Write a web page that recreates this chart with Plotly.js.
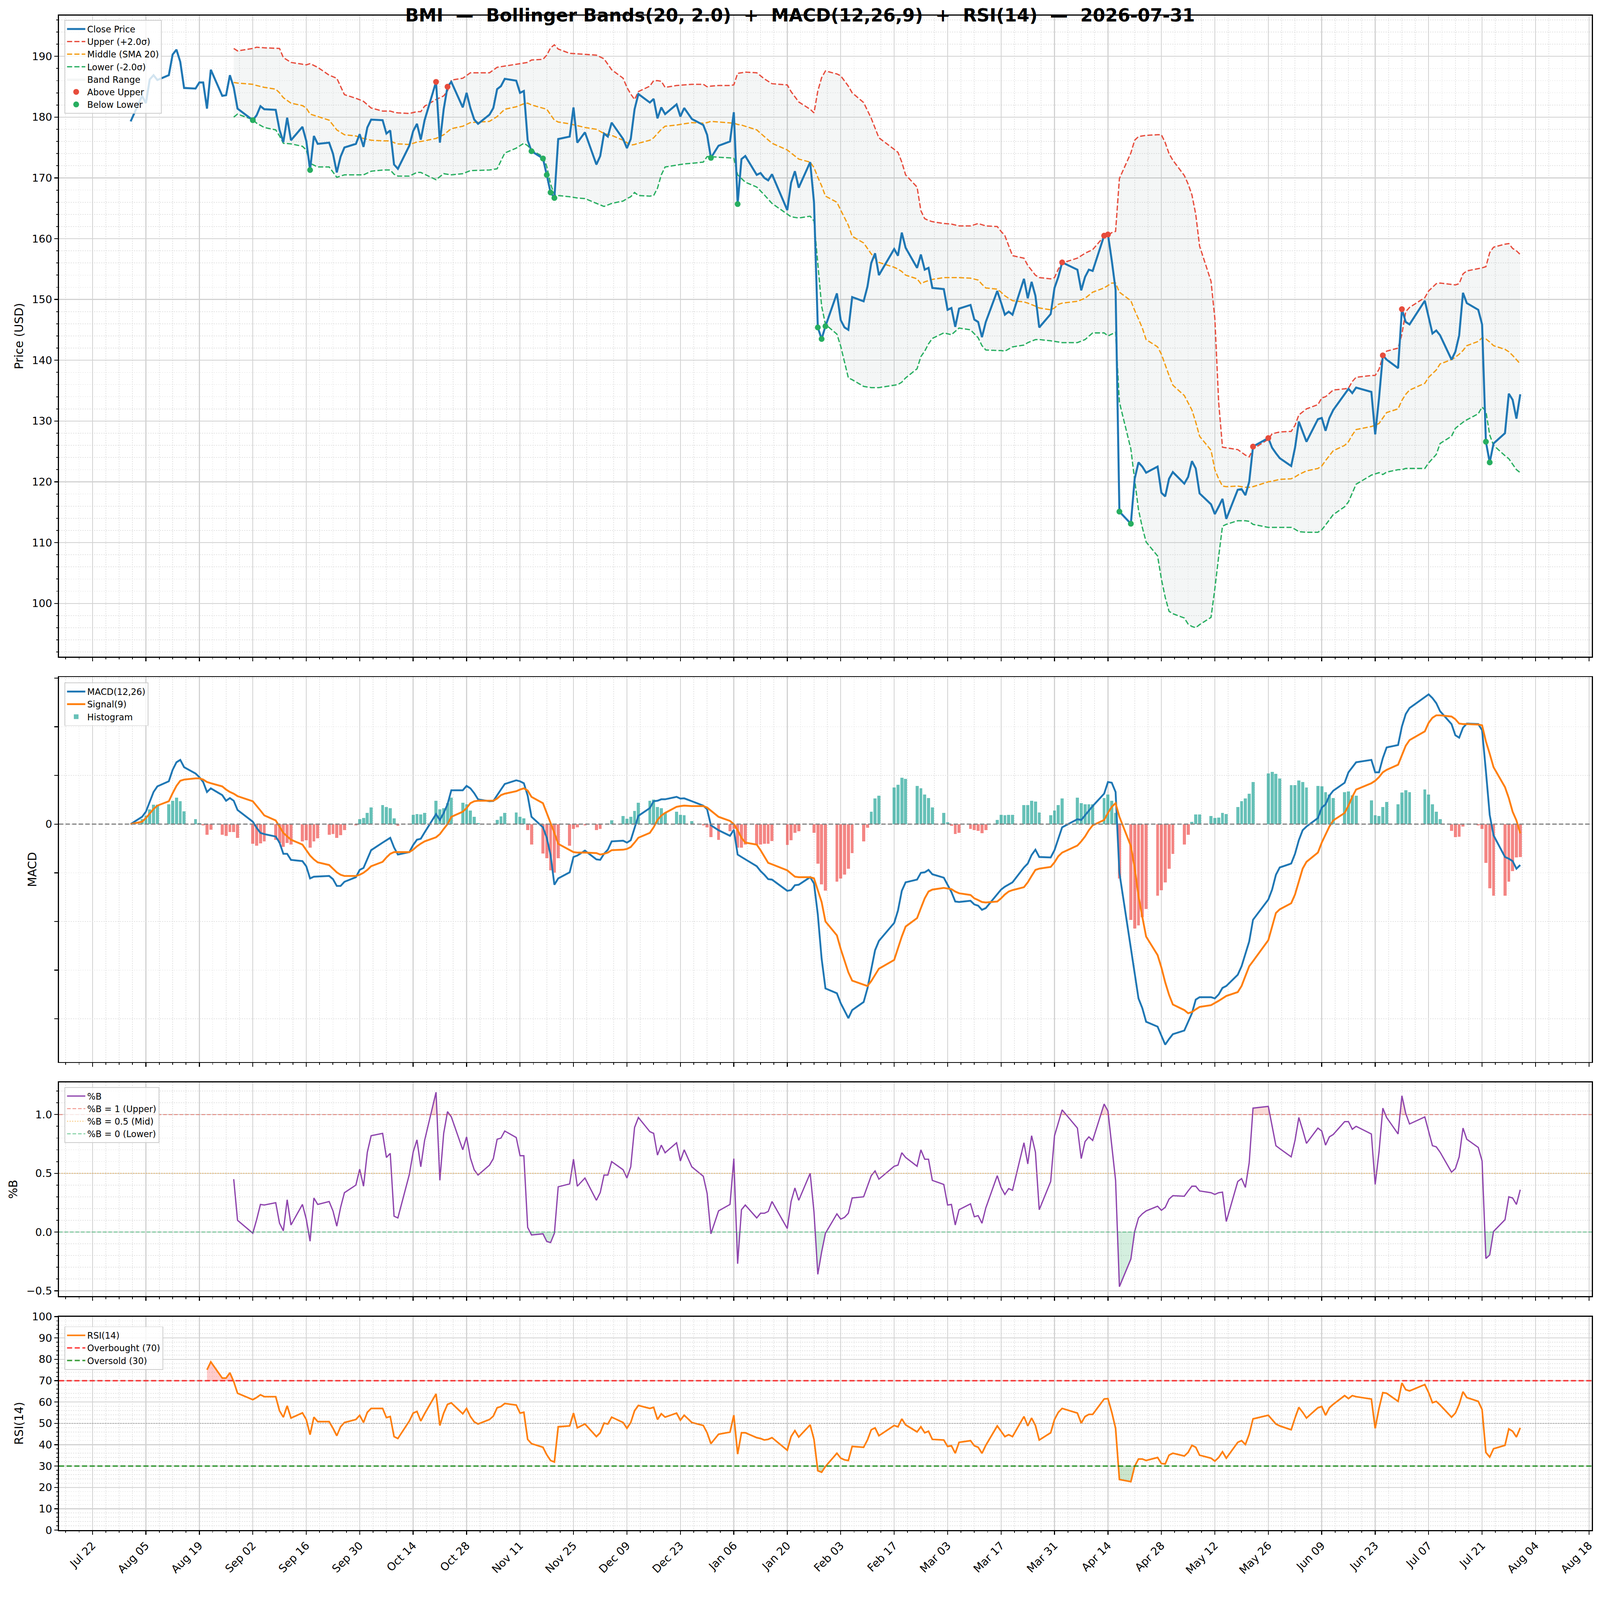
<!DOCTYPE html>
<html>
<head>
<meta charset="utf-8">
<title>BMI Bollinger / MACD / RSI</title>
<script src="https://cdn.plot.ly/plotly-3.0.1.min.js"></script>
<style>
  html, body { margin: 0; padding: 0; background: #fff; overflow: hidden; }
</style>
</head>
<body>
<div id="chart"></div>
<script>
// ---- trading calendar -------------------------------------------------
const firstDay = "2025-08-01";
const lastDay = "2026-07-31";
const marketHolidays = [
    "2025-09-01", "2025-11-27", "2025-12-25", "2026-01-01", "2026-01-19",
    "2026-02-16", "2026-04-03", "2026-05-25", "2026-06-19", "2026-07-03",
];

// ---- close price, one row per trading week ----------------------------
const closePrice = [
    179.3,                               // Aug 1
    183.5, 182.3, 186.2, 186.9, 186.1,   // Aug 4-8
    186.9, 190.3, 191.1, 189.1, 184.8,   // Aug 11-15
    184.7, 185.7, 185.7, 181.4, 187.8,   // Aug 18-22
    183.5, 183.6, 186.9, 184.9, 181.4,   // Aug 25-29
    179.5, 180.3, 181.8, 181.3,          // Sep 2-5
    181.2, 177.9, 175.9, 179.9, 176.2,   // Sep 8-12
    178.4, 176.1, 171.3, 176.9, 175.6,   // Sep 15-19
    175.8, 174.0, 170.9, 173.5, 175.0,   // Sep 22-26
    175.6, 177.2, 175.1, 178.3, 179.6,   // Sep 29-Oct 3
    179.5, 177.3, 177.8, 172.2, 171.5,   // Oct 6-10
    175.3, 177.7, 178.9, 176.3, 179.5,   // Oct 13-17
    185.8, 175.8, 181.3, 185.0, 185.8,   // Oct 20-24
    181.6, 184.0, 181.5, 179.6, 178.9,   // Oct 27-31
    180.4, 181.5, 184.6, 185.1, 186.3,   // Nov 3-7
    186.0, 184.0, 184.3, 176.2, 174.4,   // Nov 10-14
    173.2, 170.5, 167.6, 166.7, 176.4,   // Nov 17-21
    176.8, 181.6, 175.8, 177.5,          // Nov 24-28
    172.2, 173.6, 177.3, 176.8, 179.1,   // Dec 1-5
    176.4, 174.9, 176.4, 181.3, 183.8,   // Dec 8-12
    182.4, 183.0, 179.8, 181.6, 180.5,   // Dec 15-19
    182.1, 180.1, 181.5, 179.7,          // Dec 22-26
    178.7, 177.1, 173.3, 175.3,          // Dec 29-Jan 2
    176.0, 180.8, 165.7, 173.1, 173.6,   // Jan 5-9
    170.5, 170.8, 170.0, 169.6, 170.6,   // Jan 12-16
    164.7, 169.2, 171.1, 168.4,          // Jan 20-23
    172.6, 166.0, 145.4, 143.5, 145.6,   // Jan 26-30
    151.0, 146.6, 145.4, 145.0, 150.4,   // Feb 2-6
    149.7, 152.1, 156.0, 157.6, 154.0,   // Feb 9-13
    158.3, 157.2, 161.0, 158.5,          // Feb 17-20
    155.2, 157.4, 154.9, 155.2, 151.9,   // Feb 23-27
    151.7, 148.3, 148.6, 145.5, 148.5,   // Mar 2-6
    149.1, 146.7, 146.3, 143.8, 146.3,   // Mar 9-13
    151.4, 149.5, 147.5, 148.0, 147.5,   // Mar 16-20
    153.4, 150.2, 152.9, 150.6, 145.4,   // Mar 23-27
    147.6, 151.9, 153.7, 156.1,          // Mar 30-Apr 2
    154.9, 151.5, 153.7, 154.9, 154.7,   // Apr 6-10
    160.5, 160.7, 156.4, 151.6, 115.1,   // Apr 13-17
    113.1, 120.5, 123.2, 122.5, 121.5,   // Apr 20-24
    122.5, 118.2, 117.6, 120.5, 121.6,   // Apr 27-May 1
    119.7, 120.8, 123.4, 122.2, 118.1,   // May 4-8
    116.3, 114.7, 115.9, 117.2, 113.9,   // May 11-15
    118.7, 118.8, 117.8, 120.0, 125.8,   // May 18-22
    127.2, 125.6, 124.7, 123.9,          // May 26-29
    122.6, 125.6, 129.9, 128.2, 126.6,   // Jun 1-5
    130.3, 130.5, 128.4, 130.5, 131.8,   // Jun 8-12
    134.4, 135.3, 134.6, 135.5,          // Jun 15-18
    134.8, 127.8, 133.7, 140.8, 140.1,   // Jun 22-26
    138.7, 148.4, 146.3, 145.9,          // Jun 29-Jul 2
    149.8, 147.1, 144.4, 144.9, 144.1,   // Jul 6-10
    140.1, 141.4, 144.1, 151.1, 149.4,   // Jul 13-17
    148.3, 145.9, 126.6, 123.2, 126.3,   // Jul 20-24
    128.0, 134.5, 133.5, 130.4, 134.4,   // Jul 27-31
];

// ---- Bollinger bands, sampled dates --------------------------------------
const bandDates = [
    "2025-08-28", "2025-08-29",
    "2025-09-02", "2025-09-03", "2025-09-05", "2025-09-08", "2025-09-09", "2025-09-10", "2025-09-12", "2025-09-15",
    "2025-09-16", "2025-09-17", "2025-09-19", "2025-09-22", "2025-09-24", "2025-09-26", "2025-09-29",
    "2025-10-01", "2025-10-03", "2025-10-06", "2025-10-08", "2025-10-09", "2025-10-10", "2025-10-13", "2025-10-15",
    "2025-10-16", "2025-10-17", "2025-10-20", "2025-10-22", "2025-10-23", "2025-10-24", "2025-10-27", "2025-10-29",
    "2025-11-03", "2025-11-05", "2025-11-07", "2025-11-10", "2025-11-12", "2025-11-13", "2025-11-14", "2025-11-17",
    "2025-11-18", "2025-11-19", "2025-11-20", "2025-11-21", "2025-11-24", "2025-11-26", "2025-11-28",
    "2025-12-01", "2025-12-03", "2025-12-05", "2025-12-08", "2025-12-09", "2025-12-10", "2025-12-11", "2025-12-12",
    "2025-12-15", "2025-12-16", "2025-12-17", "2025-12-18", "2025-12-19", "2025-12-22", "2025-12-24", "2025-12-26",
    "2025-12-29", "2025-12-30", "2025-12-31",
    "2026-01-02", "2026-01-05", "2026-01-06", "2026-01-07", "2026-01-08", "2026-01-09", "2026-01-12", "2026-01-14",
    "2026-01-16", "2026-01-20", "2026-01-21", "2026-01-23", "2026-01-26", "2026-01-27", "2026-01-28", "2026-01-29",
    "2026-01-30",
    "2026-02-02", "2026-02-03", "2026-02-05", "2026-02-06", "2026-02-09", "2026-02-11", "2026-02-13", "2026-02-17",
    "2026-02-18", "2026-02-19", "2026-02-20", "2026-02-23", "2026-02-24", "2026-02-25", "2026-02-26", "2026-02-27",
    "2026-03-02", "2026-03-04", "2026-03-06", "2026-03-09", "2026-03-11", "2026-03-12", "2026-03-13", "2026-03-16",
    "2026-03-17", "2026-03-18", "2026-03-20", "2026-03-23", "2026-03-24", "2026-03-26", "2026-03-27", "2026-03-30",
    "2026-03-31",
    "2026-04-01", "2026-04-02", "2026-04-06", "2026-04-08", "2026-04-10", "2026-04-13", "2026-04-14", "2026-04-15",
    "2026-04-16", "2026-04-17", "2026-04-20", "2026-04-21", "2026-04-22", "2026-04-23", "2026-04-24", "2026-04-27",
    "2026-04-28", "2026-04-29", "2026-04-30",
    "2026-05-01", "2026-05-04", "2026-05-05", "2026-05-06", "2026-05-07", "2026-05-08", "2026-05-11", "2026-05-12",
    "2026-05-13", "2026-05-14", "2026-05-15", "2026-05-18", "2026-05-20", "2026-05-21", "2026-05-22", "2026-05-26",
    "2026-05-27", "2026-05-29",
    "2026-06-01", "2026-06-02", "2026-06-03", "2026-06-05", "2026-06-08", "2026-06-09", "2026-06-10", "2026-06-12",
    "2026-06-15", "2026-06-16", "2026-06-17", "2026-06-18", "2026-06-22", "2026-06-23", "2026-06-24", "2026-06-25",
    "2026-06-26", "2026-06-29", "2026-06-30",
    "2026-07-01", "2026-07-02", "2026-07-06", "2026-07-07", "2026-07-09", "2026-07-10", "2026-07-13", "2026-07-14",
    "2026-07-15", "2026-07-16", "2026-07-17", "2026-07-20", "2026-07-21", "2026-07-22", "2026-07-23", "2026-07-24",
    "2026-07-27", "2026-07-28", "2026-07-29", "2026-07-30", "2026-07-31",
];
const upperBand = [
    191.3, 190.9,
    191.3, 191.5, 191.4, 191.3, 191.3, 189.8, 189.0, 188.7, 188.6, 188.8, 188.2, 186.9, 186.4, 183.7, 183.1,
    182.6, 181.5, 181.0, 181.0, 180.8, 180.7, 180.6, 180.9, 180.9, 181.8, 182.9, 183.5, 184.3, 186.1, 186.4, 187.3,
    187.3, 188.2, 188.4, 188.7, 188.9, 189.0, 189.4, 189.5, 190.2, 191.4, 191.9, 191.2, 190.5, 190.4, 190.3,
    190.2, 189.6, 187.8, 186.4, 184.9, 183.8, 182.9, 184.2, 185.1, 186.0, 186.0, 185.9, 184.9, 185.2, 185.3, 185.4,
    185.4, 185.0, 185.1,
    185.2, 185.2, 185.3, 187.2, 187.3, 187.4, 187.3, 186.3, 185.5, 185.3, 184.2, 182.5, 181.3, 180.7, 184.3, 186.5,
    187.6,
    187.1, 186.8, 185.1, 184.0, 182.4, 179.8, 176.6, 174.7, 174.2, 172.6, 170.5, 168.5, 164.6, 163.3, 163.0, 162.8,
    162.5, 162.4, 162.1, 162.1, 162.5, 162.3, 162.1, 162.0, 161.2, 160.5, 157.2, 156.8, 155.6, 154.0, 153.6, 153.4,
    153.6,
    155.0, 156.0, 156.8, 157.6, 158.2, 160.4, 160.5, 161.0, 161.2, 169.9, 174.1, 176.2, 176.8, 176.9, 177.0, 177.1,
    177.1, 175.8, 174.0,
    172.9, 170.4, 169.0, 167.2, 164.0, 158.8, 153.0, 146.9, 133.1, 125.7, 125.6, 125.3, 124.4, 124.1, 125.4, 127.0,
    127.9, 128.2,
    128.3, 129.3, 131.0, 132.0, 132.7, 133.8, 134.0, 135.1, 135.3, 135.4, 136.5, 137.2, 137.5, 137.5, 138.5, 140.6,
    141.5, 142.0, 144.3,
    148.0, 148.7, 150.3, 151.4, 152.6, 152.7, 152.5, 152.4, 152.6, 154.2, 154.7, 155.1, 155.2, 155.4, 157.7, 158.6,
    159.1, 159.2, 158.4, 158.0, 157.4,
];
const middleBand = [
    185.7, 185.6,
    185.4, 185.2, 184.9, 184.6, 184.0, 183.2, 182.3, 181.9, 181.5, 180.5, 180.1, 179.5, 177.9, 177.1, 176.9,
    176.5, 176.2, 176.1, 176.1, 175.8, 175.6, 175.5, 175.9, 176.0, 176.1, 176.5, 177.1, 177.6, 178.1, 178.5, 179.1,
    179.3, 180.1, 181.3, 181.7, 182.2, 182.3, 182.0, 181.5, 181.3, 180.4, 179.5, 179.2, 178.9, 178.6, 178.3,
    178.0, 177.3, 177.0, 176.2, 175.8, 175.4, 175.5, 175.7, 176.2, 176.6, 177.3, 178.0, 178.5, 178.7, 178.9, 179.1,
    179.0, 179.1, 179.3,
    179.2, 179.1, 179.0, 178.8, 178.7, 178.5, 177.9, 176.8, 175.7, 174.6, 174.1, 173.1, 172.6, 171.7, 170.1, 168.7,
    167.0,
    166.0, 164.7, 162.2, 160.4, 159.3, 157.5, 156.1, 155.3, 155.0, 154.6, 154.0, 153.4, 152.6, 152.9, 153.1, 153.3,
    153.6, 153.6, 153.6, 153.5, 153.2, 152.5, 151.9, 151.7, 151.2, 150.6, 149.8, 149.6, 149.4, 148.9, 148.6, 148.3,
    148.6,
    149.2, 149.4, 149.7, 150.2, 151.2, 151.9, 152.3, 152.7, 152.7, 151.2, 149.8, 148.2, 146.8, 145.3, 143.4, 142.2,
    141.0, 139.2, 137.5,
    135.9, 134.2, 133.0, 131.8, 129.8, 127.5, 125.2, 122.0, 120.5, 119.3, 119.2, 119.3, 119.1, 119.1, 119.2, 120.0,
    120.1, 120.4,
    120.5, 120.8, 121.2, 121.8, 122.2, 122.6, 123.5, 125.1, 126.0, 126.6, 127.7, 128.6, 129.1, 129.3, 129.6, 130.5,
    131.4, 132.0, 133.4,
    134.4, 135.1, 136.2, 137.2, 138.4, 139.4, 140.1, 140.5, 141.0, 141.6, 142.4, 143.1, 143.7, 143.5, 143.0, 142.4,
    141.8, 141.4, 140.8, 140.1, 139.4,
];
const lowerBand = [
    180.0, 180.5,
    179.6, 179.0, 178.3, 177.9, 176.9, 175.7, 175.6, 175.2, 174.6, 172.4, 171.8, 171.8, 170.1, 170.5, 170.5,
    170.5, 171.1, 171.3, 171.3, 170.6, 170.3, 170.3, 170.9, 170.9, 170.6, 169.7, 170.7, 170.6, 170.5, 170.7, 171.2,
    171.3, 171.5, 174.1, 174.9, 175.7, 175.3, 174.6, 173.5, 171.9, 169.0, 167.2, 167.1, 166.9, 166.7, 166.6,
    165.8, 165.3, 165.8, 166.2, 166.6, 166.9, 167.6, 167.1, 167.0, 167.1, 168.3, 170.5, 171.8, 172.1, 172.3, 172.4,
    172.6, 173.5, 173.5,
    173.4, 173.3, 173.2, 170.5, 169.9, 169.3, 168.5, 167.2, 165.8, 164.0, 163.6, 163.4, 163.7, 162.9, 156.0, 148.9,
    145.9,
    144.3, 142.3, 137.1, 136.8, 135.7, 135.5, 135.5, 135.9, 136.0, 136.4, 137.1, 138.6, 140.6, 141.5, 142.7, 143.6,
    144.5, 144.2, 145.3, 145.0, 143.7, 142.4, 141.7, 141.6, 141.6, 141.5, 142.2, 142.5, 142.9, 143.4, 143.4, 143.2,
    143.1,
    143.0, 142.9, 142.9, 143.4, 144.5, 144.5, 144.0, 144.3, 144.6, 133.1, 125.4, 120.3, 115.4, 112.5, 110.1, 107.8,
    104.0, 101.0, 98.7,
    98.3, 97.6, 96.6, 96.2, 96.0, 96.5, 97.7, 102.4, 107.7, 112.7, 113.0, 113.6, 113.6, 113.5, 113.0, 112.5,
    112.5, 112.5,
    112.5, 112.2, 111.8, 111.7, 111.7, 112.1, 112.9, 114.6, 115.9, 116.7, 118.2, 119.6, 121.1, 121.3, 121.5, 121.2,
    121.6, 122.0, 122.0,
    122.2, 122.2, 122.2, 123.1, 124.5, 126.3, 127.5, 128.8, 129.3, 129.8, 130.2, 131.2, 132.3, 131.6, 127.7, 126.0,
    124.3, 123.8, 122.9, 122.0, 121.5,
];

// days where the close broke out of the bands
const aboveUpperDates = [
    "2025-10-20", "2025-10-23", "2026-04-02", "2026-04-13", "2026-04-14",
    "2026-05-22", "2026-05-26", "2026-06-25", "2026-06-30",
];
const belowLowerDates = [
    "2025-09-02", "2025-09-17", "2025-11-14", "2025-11-17", "2025-11-18", "2025-11-19", "2025-11-20",
    "2025-12-31", "2026-01-07", "2026-01-28", "2026-01-29", "2026-01-30", "2026-04-17", "2026-04-20",
    "2026-07-22", "2026-07-23",
];

// ---- MACD(12,26,9) ------------------------------------------------------
const macdLine = [
    0.00,
    0.30, 0.51, 0.90, 1.32, 1.55,
    1.76, 2.23, 2.54, 2.64, 2.34,
    2.08, 1.93, 1.73, 1.32, 1.47,
    1.19, 0.96, 1.07, 0.96, 0.58,
    0.10, -0.15, -0.36, -0.41,
    -0.51, -0.76, -1.22, -1.22, -1.47,
    -1.52, -1.73, -2.23, -2.16, -2.15,
    -2.13, -2.26, -2.54, -2.54, -2.37,
    -2.18, -1.88, -1.80, -1.42, -1.07,
    -0.76, -0.66, -0.56, -0.96, -1.25,
    -1.15, -0.86, -0.64, -0.60, -0.34,
    0.41, 0.17, 0.46, 0.81, 1.39,
    1.39, 1.57, 1.47, 1.27, 1.02,
    0.94, 0.95, 1.17, 1.42, 1.65,
    1.80, 1.76, 1.68, 1.17, 0.30,
    -0.13, -0.56, -1.27, -2.49, -2.23,
    -1.98, -1.35, -1.29, -1.09,
    -1.45, -1.47, -1.22, -1.05, -0.71,
    -0.68, -0.76, -0.66, -0.17, 0.34,
    0.66, 0.94, 0.96, 1.02, 1.02,
    1.12, 1.05, 1.06, 0.94,
    0.76, 0.61, -0.05, -0.25,
    -0.48, -0.23, -1.25, -1.35, -1.45,
    -1.73, -1.93, -2.08, -2.26, -2.28,
    -2.74, -2.71, -2.51, -2.49,
    -2.18, -2.44, -3.71, -5.53, -6.75,
    -6.95, -7.36, -7.66, -7.97, -7.64,
    -7.31, -6.75, -5.99, -5.18, -4.80,
    -4.06, -3.55, -2.74, -2.39,
    -2.28, -2.00, -1.98, -1.88, -2.06,
    -2.20, -2.49, -2.79, -3.18, -3.20,
    -3.15, -3.30, -3.35, -3.52, -3.45,
    -2.89, -2.69, -2.57, -2.49, -2.39,
    -1.78, -1.62, -1.27, -1.05, -1.35,
    -1.37, -1.07, -0.61, -0.13,
    0.20, 0.17, 0.36, 0.56, 0.74,
    1.25, 1.73, 1.70, 1.32, -2.00,
    -5.03, -6.14, -7.16, -7.56, -8.12,
    -8.32, -8.68, -9.06, -8.83, -8.63,
    -8.48, -8.12, -7.77, -7.21, -7.11,
    -7.11, -7.16, -7.00, -6.73, -6.65,
    -6.19, -5.84, -5.33, -4.82, -3.93,
    -3.10, -2.69, -2.08, -1.78,
    -1.62, -1.22, -0.66, -0.25, -0.10,
    0.25, 0.68, 0.81, 1.17, 1.37,
    1.70, 2.13, 2.34, 2.54,
    2.64, 2.13, 2.13, 2.71, 3.15,
    3.25, 4.01, 4.52, 4.77,
    5.23, 5.33, 5.18, 4.97, 4.64,
    4.11, 3.65, 3.55, 3.96, 4.13,
    4.11, 3.86, 2.18, 0.38, -0.46,
    -1.35, -1.42, -1.52, -1.83, -1.68,
];
const signalLine = [
    0.00,
    0.10, 0.25, 0.45, 0.62, 0.76,
    0.94, 1.27, 1.57, 1.78, 1.83,
    1.88, 1.88, 1.83, 1.73, 1.68,
    1.55, 1.42, 1.32, 1.25, 1.15,
    0.94, 0.76, 0.56, 0.36,
    0.15, -0.10, -0.36, -0.50, -0.64,
    -0.84, -1.05, -1.29, -1.45, -1.57,
    -1.68, -1.83, -1.98, -2.08, -2.13,
    -2.13, -2.08, -2.00, -1.88, -1.73,
    -1.55, -1.37, -1.22, -1.15, -1.15,
    -1.15, -1.05, -0.91, -0.80, -0.71,
    -0.54, -0.41, -0.20, 0.00, 0.30,
    0.51, 0.66, 0.86, 0.94, 0.96,
    0.96, 0.96, 1.05, 1.19, 1.25,
    1.35, 1.42, 1.47, 1.38, 1.12,
    0.86, 0.46, 0.05, -0.36, -0.81,
    -1.07, -1.15, -1.17, -1.17,
    -1.19, -1.25, -1.22, -1.17, -1.07,
    -1.05, -1.02, -0.94, -0.76, -0.56,
    -0.36, -0.13, 0.17, 0.35, 0.46,
    0.71, 0.74, 0.76, 0.74,
    0.74, 0.68, 0.56, 0.30,
    0.13, 0.00, -0.25, -0.56, -0.76,
    -0.84, -1.07, -1.32, -1.59, -1.65,
    -1.90, -2.03, -2.16, -2.18,
    -2.18, -2.23, -2.69, -3.20, -4.00,
    -4.57, -5.13, -5.63, -6.09, -6.43,
    -6.60, -6.65, -6.45, -6.19, -5.94,
    -5.58, -5.08, -4.62, -4.21,
    -3.86, -3.45, -3.05, -2.77, -2.69,
    -2.62, -2.64, -2.67, -2.77, -2.84,
    -2.91, -3.05, -3.12, -3.20, -3.22,
    -3.18, -3.05, -2.89, -2.77, -2.71,
    -2.59, -2.39, -2.13, -1.88, -1.83,
    -1.76, -1.57, -1.32, -1.17,
    -0.88, -0.71, -0.51, -0.25, -0.05,
    0.17, 0.46, 0.71, 0.86, 0.30,
    -0.90, -1.80, -2.95, -3.81, -4.62,
    -5.38, -5.89, -6.50, -7.01, -7.41,
    -7.64, -7.77, -7.72, -7.61, -7.51,
    -7.44, -7.36, -7.26, -7.16, -7.06,
    -6.90, -6.65, -6.24, -5.84, -5.63,
    -4.77, -4.21, -3.65, -3.50,
    -3.25, -2.89, -2.34, -1.83, -1.55,
    -1.17, -0.76, -0.41, -0.10, 0.15,
    0.46, 0.76, 1.12, 1.42,
    1.68, 1.78, 1.93, 2.13, 2.23,
    2.44, 2.84, 3.22, 3.45,
    3.81, 4.16, 4.37, 4.47, 4.47,
    4.42, 4.31, 4.13, 4.11, 4.11,
    4.09, 4.06, 3.40, 2.89, 2.34,
    1.52, 1.07, 0.51, 0.15, -0.38,
];
const macdHist = [
    0.00,
    0.20, 0.35, 0.60, 0.80, 0.80,
    0.81, 0.96, 1.09, 0.94, 0.53,
    0.20, 0.05, -0.05, -0.43, -0.23,
    -0.43, -0.48, -0.32, -0.32, -0.56,
    -0.81, -0.88, -0.79, -0.71,
    -0.64, -0.78, -0.94, -0.78, -0.84,
    -0.71, -0.66, -0.96, -0.71, -0.58,
    -0.44, -0.41, -0.56, -0.46, -0.25,
    -0.05, 0.20, 0.25, 0.46, 0.68,
    0.78, 0.71, 0.66, 0.23, -0.07,
    0.00, 0.38, 0.41, 0.40, 0.46,
    0.96, 0.61, 0.66, 0.86, 1.09,
    0.88, 0.81, 0.56, 0.30, 0.05,
    0.00, 0.00, 0.17, 0.32, 0.46,
    0.48, 0.30, 0.23, -0.25, -0.84,
    -1.20, -1.40, -1.90, -2.00, -1.40,
    -0.88, -0.20, -0.13, -0.05,
    -0.25, -0.20, 0.00, 0.03, 0.15,
    0.34, 0.22, 0.30, 0.54, 0.88,
    0.96, 1.00, 0.71, 0.66, 0.44,
    0.51, 0.38, 0.36, 0.13,
    -0.05, -0.13, -0.54, -0.64,
    -0.30, -0.20, -0.96, -0.96, -0.84,
    -0.84, -0.84, -0.81, -0.81, -0.70,
    -0.86, -0.66, -0.36, -0.30,
    0.00, -0.36, -1.62, -2.47, -2.74,
    -2.37, -2.23, -2.08, -1.83, -1.19,
    -0.71, -0.15, 0.51, 1.05, 1.17,
    1.50, 1.62, 1.90, 1.86,
    1.57, 1.47, 1.22, 1.07, 0.68,
    0.46, 0.07, -0.07, -0.41, -0.36,
    -0.20, -0.25, -0.27, -0.38, -0.25,
    0.17, 0.38, 0.36, 0.38, 0.38,
    0.78, 0.78, 0.96, 0.93, 0.48,
    0.36, 0.56, 0.78, 1.05,
    1.09, 0.86, 0.81, 0.81, 0.81,
    1.07, 1.22, 0.96, 0.46, -2.23,
    -3.93, -4.29, -4.16, -3.83, -3.48,
    -2.94, -2.71, -2.39, -1.83, -1.22,
    -0.84, -0.44, 0.10, 0.40, 0.40,
    0.34, 0.25, 0.27, 0.46, 0.41,
    0.71, 0.94, 1.05, 1.25, 1.73,
    2.08, 2.15, 2.06, 1.88,
    1.60, 1.60, 1.80, 1.73, 1.50,
    1.57, 1.55, 1.32, 1.22, 1.07,
    1.32, 1.35, 1.19, 1.17,
    0.98, 0.36, 0.34, 0.71, 0.91,
    0.81, 1.30, 1.40, 1.32,
    1.42, 1.22, 0.81, 0.51, 0.20,
    -0.27, -0.54, -0.51, -0.10, 0.02,
    -0.05, -0.20, -1.59, -2.64, -2.94,
    -2.94, -2.37, -1.93, -1.37, -1.35,
];

// ---- %B, starts Aug 28 ----------------------------------------------------
const percentB = [
    0.45, 0.10,
    -0.01, 0.105, 0.235, 0.23,
    0.25, 0.075, 0.01, 0.275, 0.06,
    0.235, 0.11, -0.078, 0.29, 0.235,
    0.26, 0.18, 0.05, 0.21, 0.335,
    0.40, 0.535, 0.39, 0.68, 0.82,
    0.84, 0.635, 0.67, 0.135, 0.12,
    0.49, 0.68, 0.785, 0.555, 0.78,
    1.19, 0.44, 0.84, 1.025, 0.98,
    0.70, 0.81, 0.63, 0.53, 0.485,
    0.57, 0.625, 0.79, 0.80, 0.86,
    0.805, 0.65, 0.65, 0.04, -0.025,
    -0.015, -0.08, -0.09, -0.01, 0.385,
    0.41, 0.62, 0.39, 0.46,
    0.27, 0.335, 0.485, 0.485, 0.60,
    0.53, 0.46, 0.555, 0.89, 0.975,
    0.855, 0.84, 0.655, 0.74, 0.675,
    0.76, 0.605, 0.70, 0.555,
    0.475, 0.33, -0.015, 0.18,
    0.235, 0.625, -0.27, 0.19, 0.23,
    0.12, 0.16, 0.16, 0.175, 0.26,
    0.03, 0.26, 0.375, 0.27,
    0.50, 0.17, -0.36, -0.17, -0.01,
    0.155, 0.11, 0.125, 0.16, 0.29,
    0.30, 0.39, 0.48, 0.52, 0.45,
    0.56, 0.57, 0.675, 0.635,
    0.56, 0.70, 0.62, 0.62, 0.44,
    0.405, 0.23, 0.235, 0.06, 0.19,
    0.24, 0.13, 0.14, 0.075, 0.205,
    0.48, 0.38, 0.32, 0.37, 0.355,
    0.76, 0.58, 0.82, 0.68, 0.19,
    0.43, 0.82, 0.93, 1.04,
    0.885, 0.625, 0.77, 0.81, 0.78,
    1.09, 1.03, 0.73, 0.44, -0.465,
    -0.23, 0.005, 0.12, 0.155, 0.18,
    0.22, 0.185, 0.21, 0.28, 0.31,
    0.305, 0.35, 0.39, 0.39, 0.35,
    0.335, 0.32, 0.335, 0.34, 0.09,
    0.43, 0.455, 0.38, 0.59, 1.055,
    1.07, 0.90, 0.735, 0.71,
    0.64, 0.78, 0.975, 0.87, 0.755,
    0.885, 0.86, 0.74, 0.81, 0.83,
    0.94, 0.94, 0.875, 0.90,
    0.835, 0.405, 0.68, 1.055, 0.975,
    0.835, 1.16, 1.01, 0.92,
    0.98, 0.86, 0.735, 0.725, 0.68,
    0.51, 0.54, 0.64, 0.885, 0.79,
    0.72, 0.605, -0.225, -0.195, 0.005,
    0.105, 0.30, 0.29, 0.235, 0.36,
];

// ---- RSI(14), starts Aug 21 ----------------------------------------------
const rsi14 = [
    75.1, 78.8,
    71.2, 71.2, 73.7, 69.6, 64.1,
    61.1, 62.1, 63.4, 62.5,
    62.5, 55.9, 52.9, 58.2, 52.5,
    54.9, 51.8, 44.7, 52.9, 50.8,
    50.8, 47.7, 44.2, 48.4, 50.4,
    51.8, 53.8, 50.4, 55.2, 57.0,
    57.0, 52.7, 53.2, 43.8, 42.9,
    51.1, 54.8, 55.6, 51.1, 54.5,
    63.8, 49.0, 54.8, 58.9, 59.6,
    54.5, 57.0, 53.2, 50.7, 49.7,
    51.8, 53.4, 57.3, 57.9, 59.3,
    58.6, 54.8, 55.2, 42.5, 40.5,
    38.8, 35.3, 32.6, 31.9, 48.4,
    48.8, 54.8, 47.9, 49.7,
    43.8, 45.6, 50.1, 49.7, 52.9,
    50.4, 47.7, 50.4, 55.9, 58.4,
    57.0, 57.5, 51.8, 54.5, 52.9,
    54.8, 51.5, 53.8, 50.4,
    49.0, 45.6, 40.5, 44.9,
    45.9, 53.8, 35.6, 45.6, 45.6,
    43.3, 42.9, 42.2, 42.5, 43.3,
    37.4, 43.8, 46.6, 43.6,
    49.3, 42.5, 27.8, 27.1, 29.8,
    36.0, 33.7, 32.9, 32.6, 39.2,
    38.8, 42.2, 47.0, 47.9, 44.2,
    49.0, 48.4, 52.1, 49.3,
    46.0, 48.4, 45.6, 46.3, 42.5,
    42.2, 39.2, 39.5, 36.0, 41.1,
    41.9, 39.5, 38.8, 36.0, 39.7,
    48.8, 46.3, 43.8, 44.7, 43.8,
    53.2, 48.8, 52.5, 49.0, 42.2,
    45.6, 51.8, 55.2, 57.0,
    54.8, 50.1, 53.2, 54.2, 54.2,
    61.4, 61.6, 55.2, 47.7, 23.7,
    22.7, 29.9, 33.3, 33.3, 32.6,
    34.0, 31.2, 31.0, 35.1, 36.0,
    34.7, 36.4, 39.7, 38.8, 35.1,
    33.7, 32.3, 34.0, 36.7, 33.7,
    41.1, 41.9, 40.1, 44.9, 52.1,
    53.8, 51.8, 49.7, 48.8,
    47.0, 52.5, 57.5, 55.2, 52.5,
    57.3, 57.9, 53.8, 57.3, 58.9,
    63.0, 61.6, 63.0, 62.5,
    61.4, 47.7, 57.0, 64.4, 64.1,
    60.3, 68.9, 65.8, 65.2,
    68.2, 64.4, 59.7, 60.3, 58.6,
    52.9, 54.8, 58.9, 64.8, 62.1,
    60.3, 56.5, 36.4, 34.2, 38.1,
    39.7, 47.4, 46.3, 43.6, 47.9,
];

// ---- helpers ------------------------------------------------------------
function tradingDays(start, end, skip) {
    const out = [];
    const d = new Date(start + "T00:00:00Z");
    const stop = new Date(end + "T00:00:00Z");
    while (d <= stop) {
        const iso = d.toISOString().slice(0, 10);
        const wd = d.getUTCDay();
        if (wd !== 0 && wd !== 6 && !skip.includes(iso)) out.push(iso);
        d.setUTCDate(d.getUTCDate() + 1);
    }
    return out;
}

const days = tradingDays(firstDay, lastDay, marketHolidays);
// series that start later line up with the last dates
const datesFor = (arr) => days.slice(days.length - arr.length);
const closeDates = datesFor(closePrice);
const macdDates = datesFor(macdLine);
const pctbDates = datesFor(percentB);
const rsiDates = datesFor(rsi14);
const closeOn = (d) => closePrice[closeDates.indexOf(d)];

// shaded area between a line and a level, closed where the line crosses it
function beyondLevel(dates, values, level, above) {
    const t = dates.map((d) => Date.parse(d + "T00:00:00Z"));
    const isOut = (v) => (above ? v > level : v < level);
    const cross = (i) => t[i - 1] + (t[i] - t[i - 1]) * (level - values[i - 1]) / (values[i] - values[i - 1]);
    const xs = [], ys = [];
    let open = false;
    values.forEach((v, i) => {
        if (isOut(v)) {
            if (!open) {
                xs.push(i > 0 ? cross(i) : t[i]);
                ys.push(level);
                open = true;
            }
            xs.push(t[i]);
            ys.push(v);
        } else if (open) {
            xs.push(cross(i), null);
            ys.push(level, null);
            open = false;
        }
    });
    if (open) {
        xs.push(t[t.length - 1]);
        ys.push(level);
    }
    return { x: xs, y: ys };
}

// the page is laid out for a 4378 x 4322 canvas; scale to the real viewport
const BASE_W = 4378, BASE_H = 4322;
let S = Math.min(window.innerWidth / BASE_W, window.innerHeight / BASE_H);
if (!isFinite(S) || S <= 0) S = 1;
const px = (v) => v * S;
const dash = (a, b) => px(a) + "px," + px(b) + "px";

const DAY = 86400000;
const FONT = "DejaVu Sans";
const xRange = ["2025-07-13 05:31", "2026-08-18 17:46"];

function dateAxis(anchor, showLabels) {
    return {
        type: "date",
        range: xRange,
        anchor: anchor,
        tick0: "2025-07-22",
        dtick: 14 * DAY,
        tickformat: "%b %d",
        showticklabels: showLabels,
        tickangle: -45,
        tickfont: { family: FONT, size: px(30), color: "#000" },
        ticks: "outside",
        ticklen: px(10),
        tickwidth: px(2.5),
        tickcolor: "#000",
        showgrid: true,
        gridcolor: "#d2d2d2",
        gridwidth: px(2.5),
        minor: {
            tick0: "2025-07-22",
            dtick: 3.5 * DAY,
            ticks: "outside",
            ticklen: px(5),
            tickwidth: px(2),
            tickcolor: "#000",
            showgrid: true,
            gridcolor: "#e3e3e3",
            gridwidth: px(1.8),
            griddash: "dot",
        },
        showline: true,
        linecolor: "#000",
        linewidth: px(3),
        mirror: true,
        zeroline: false,
        domain: [0, 1],
    };
}

function valueAxis(anchor, domain, title, extra) {
    return Object.assign({
        anchor: anchor,
        domain: domain,
        title: { text: title, font: { family: FONT, size: px(32), color: "#000" }, standoff: px(15) },
        tickfont: { family: FONT, size: px(29), color: "#000" },
        ticks: "outside",
        ticklen: px(10),
        tickwidth: px(2.5),
        tickcolor: "#000",
        ticklabelstandoff: px(6),
        showgrid: true,
        gridcolor: "#d2d2d2",
        gridwidth: px(2.5),
        showline: true,
        linecolor: "#000",
        linewidth: px(3),
        mirror: true,
        zeroline: false,
    }, extra);
}

function minorGrid(step) {
    return {
        dtick: step,
        ticks: "outside",
        ticklen: px(5),
        tickwidth: px(2),
        tickcolor: "#000",
        showgrid: true,
        gridcolor: "#e3e3e3",
        gridwidth: px(1.8),
        griddash: "dot",
    };
}

function legendBox(top) {
    return {
        x: 0.0035,
        y: top,
        xanchor: "left",
        yanchor: "top",
        bgcolor: "rgba(255,255,255,0.8)",
        bordercolor: "#cccccc",
        borderwidth: px(2),
        font: { family: FONT, size: px(24), color: "#000" },
        itemwidth: Math.max(30, px(50)),
        traceorder: "normal",
    };
}

function hline(axisNum, y, color, width, dashStyle) {
    return {
        type: "line",
        xref: "x" + axisNum + " domain",
        x0: 0,
        x1: 1,
        yref: "y" + axisNum,
        y0: y,
        y1: y,
        layer: "above",
        line: { color: color, width: px(width), dash: dashStyle },
    };
}

// legend-only entry for a reference line drawn as a shape
function legendLine(name, axisNum, legend, color, width, dashStyle, rank) {
    return {
        x: [null], y: [null], type: "scatter", mode: "lines",
        name: name, legend: legend, legendrank: rank,
        xaxis: "x" + axisNum, yaxis: "y" + axisNum,
        line: { color: color, width: px(width), dash: dashStyle },
    };
}

const BAND_DASH = dash(14, 6);
const LEVEL_DASH = dash(10, 5);
const DOTTED = dash(3, 4);
const RSI_DASH = dash(14, 7);

const colors = {
    close: "#1f77b4",
    upper: "#e74c3c",
    middle: "#f39c12",
    lower: "#27ae60",
    band: "rgba(149,165,166,0.1)",
    macd: "#1f77b4",
    signal: "#ff7f0e",
    histUp: "rgba(38,166,154,0.7)",
    histDown: "rgba(239,83,80,0.7)",
    pctb: "#8e44ad",
    rsi: "#ff7f0e",
};

const quiet = { hoverinfo: "skip", showlegend: false };

function areaTrace(shape, color, axisNum) {
    return Object.assign({
        x: shape.x, y: shape.y, type: "scatter", mode: "lines", fill: "toself",
        fillcolor: color, line: { width: 0 }, xaxis: "x" + axisNum, yaxis: "y" + axisNum,
    }, quiet);
}

const traces = [
    // ---- price panel
    Object.assign({ x: bandDates, y: upperBand, type: "scatter", mode: "lines",
        line: { width: 0, color: colors.band }, xaxis: "x", yaxis: "y" }, quiet),
    { x: bandDates, y: lowerBand, type: "scatter", mode: "lines", fill: "tonexty",
        fillcolor: colors.band, line: { width: 0, color: "rgba(149,165,166,0.25)" },
        name: "Band Range", legendrank: 5, xaxis: "x", yaxis: "y" },
    { x: bandDates, y: upperBand, type: "scatter", mode: "lines", name: "Upper (+2.0σ)",
        line: { color: colors.upper, width: px(3.5), dash: BAND_DASH }, legendrank: 2, xaxis: "x", yaxis: "y" },
    { x: bandDates, y: middleBand, type: "scatter", mode: "lines", name: "Middle (SMA 20)",
        line: { color: colors.middle, width: px(3.5), dash: BAND_DASH }, legendrank: 3, xaxis: "x", yaxis: "y" },
    { x: bandDates, y: lowerBand, type: "scatter", mode: "lines", name: "Lower (-2.0σ)",
        line: { color: colors.lower, width: px(3.5), dash: BAND_DASH }, legendrank: 4, xaxis: "x", yaxis: "y" },
    { x: closeDates, y: closePrice, type: "scatter", mode: "lines", name: "Close Price",
        line: { color: colors.close, width: px(5.5) }, legendrank: 1, xaxis: "x", yaxis: "y" },
    { x: aboveUpperDates, y: aboveUpperDates.map(closeOn), type: "scatter", mode: "markers",
        name: "Above Upper", marker: { color: colors.upper, size: px(16) }, legendrank: 6, xaxis: "x", yaxis: "y" },
    { x: belowLowerDates, y: belowLowerDates.map(closeOn), type: "scatter", mode: "markers",
        name: "Below Lower", marker: { color: colors.lower, size: px(16) }, legendrank: 7, xaxis: "x", yaxis: "y" },

    // ---- MACD panel
    { x: macdDates, y: macdHist, type: "bar", name: "Histogram", width: 0.8 * DAY,
        marker: { color: macdHist.map((v) => (v >= 0 ? colors.histUp : colors.histDown)), line: { width: 0 } },
        legend: "legend2", legendrank: 3, xaxis: "x2", yaxis: "y2" },
    { x: macdDates, y: macdLine, type: "scatter", mode: "lines", name: "MACD(12,26)",
        line: { color: colors.macd, width: px(5) }, legend: "legend2", legendrank: 1, xaxis: "x2", yaxis: "y2" },
    { x: macdDates, y: signalLine, type: "scatter", mode: "lines", name: "Signal(9)",
        line: { color: colors.signal, width: px(5) }, legend: "legend2", legendrank: 2, xaxis: "x2", yaxis: "y2" },

    // ---- %B panel
    areaTrace(beyondLevel(pctbDates, percentB, 0, false), "rgba(39,174,96,0.2)", 3),
    areaTrace(beyondLevel(pctbDates, percentB, 1, true), "rgba(231,76,60,0.2)", 3),
    { x: pctbDates, y: percentB, type: "scatter", mode: "lines", name: "%B",
        line: { color: colors.pctb, width: px(3.5) }, legend: "legend3", legendrank: 1, xaxis: "x3", yaxis: "y3" },
    legendLine("%B = 1 (Upper)", 3, "legend3", "rgba(231,76,60,0.6)", 2.5, LEVEL_DASH, 2),
    legendLine("%B = 0.5 (Mid)", 3, "legend3", "rgba(243,156,18,0.6)", 2.5, DOTTED, 3),
    legendLine("%B = 0 (Lower)", 3, "legend3", "rgba(39,174,96,0.6)", 2.5, LEVEL_DASH, 4),

    // ---- RSI panel
    areaTrace(beyondLevel(rsiDates, rsi14, 70, true), "rgba(255,0,0,0.2)", 4),
    areaTrace(beyondLevel(rsiDates, rsi14, 30, false), "rgba(0,128,0,0.2)", 4),
    { x: rsiDates, y: rsi14, type: "scatter", mode: "lines", name: "RSI(14)",
        line: { color: colors.rsi, width: px(4.5) }, legend: "legend4", legendrank: 1, xaxis: "x4", yaxis: "y4" },
    legendLine("Overbought (70)", 4, "legend4", "rgba(255,0,0,0.75)", 4, RSI_DASH, 2),
    legendLine("Oversold (30)", 4, "legend4", "rgba(0,128,0,0.75)", 4, RSI_DASH, 3),
];

const nbsp2 = "\u00a0\u00a0";
const titleText = "BMI" + nbsp2 + "—" + nbsp2 + "Bollinger Bands(20, 2.0)" + nbsp2 + "+" + nbsp2 +
    "MACD(12,26,9)" + nbsp2 + "+" + nbsp2 + "RSI(14)" + nbsp2 + "—" + nbsp2 + "2026-07-31";

const layout = {
    width: Math.floor(px(BASE_W)),
    height: Math.floor(px(BASE_H)),
    margin: { l: px(161), r: px(22), t: px(43), b: px(135) },
    paper_bgcolor: "#ffffff",
    plot_bgcolor: "#ffffff",
    font: { family: FONT, color: "#000" },
    showlegend: true,
    title: {
        text: titleText,
        font: { family: FONT, size: px(49), weight: "bold", color: "#000" },
        x: 0.5, xref: "container", xanchor: "center",
        y: 0.9903, yref: "container", yanchor: "middle",
    },
    bargap: 0,
    xaxis: dateAxis("y", false),
    xaxis2: dateAxis("y2", false),
    xaxis3: dateAxis("y3", false),
    xaxis4: dateAxis("y4", true),
    yaxis: valueAxis("x", [0.57674, 1.0], "Price (USD)",
        { range: [91.24, 196.7], tick0: 0, dtick: 10, minor: minorGrid(2) }),
    yaxis2: valueAxis("x2", [0.30912, 0.56322], "MACD",
        { range: [-9.77, 6.04], tickmode: "array",
          tickvals: [-8, -6, -4, -2, 0, 2, 4, 6],
          ticktext: ["", "", "", "", "0", "", "", ""],
          gridcolor: "#e3e3e3", gridwidth: px(1.8), griddash: "dot" }),
    yaxis3: valueAxis("x3", [0.15444, 0.29561], "%B",
        { range: [-0.546, 1.274], tick0: 0, dtick: 0.5, tickformat: ".1f", minor: minorGrid(0.1) }),
    yaxis4: valueAxis("x4", [0, 0.14093], "RSI(14)",
        { range: [0, 100], tick0: 0, dtick: 10, minor: minorGrid(2) }),
    legend: legendBox(0.9971),
    legend2: legendBox(0.5596),
    legend3: legendBox(0.2925),
    legend4: legendBox(0.1345),
    shapes: [
        hline(2, 0, "#808080", 3, dash(12, 6)),
        hline(3, 1, "rgba(231,76,60,0.6)", 2.5, LEVEL_DASH),
        hline(3, 0.5, "rgba(243,156,18,0.6)", 2.5, DOTTED),
        hline(3, 0, "rgba(39,174,96,0.6)", 2.5, LEVEL_DASH),
        hline(4, 70, "rgba(255,0,0,0.75)", 4, RSI_DASH),
        hline(4, 50, "rgba(128,128,128,0.55)", 2.5, DOTTED),
        hline(4, 30, "rgba(0,128,0,0.75)", 4, RSI_DASH),
    ],
};

const chart = document.getElementById("chart");
chart.style.width = layout.width + "px";
chart.style.height = layout.height + "px";
Plotly.newPlot(chart, traces, layout, { staticPlot: true, responsive: false });
</script>
</body>
</html>
